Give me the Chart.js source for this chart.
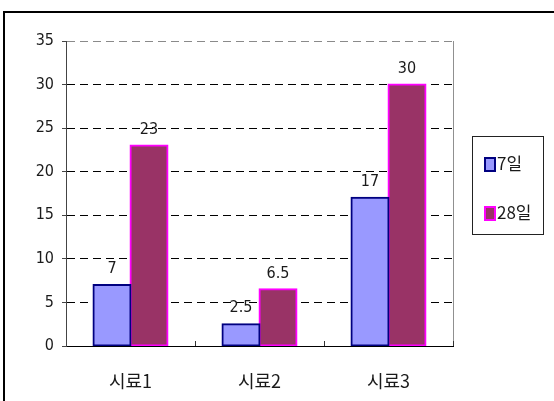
<!DOCTYPE html>
<html lang="ko">
<head>
<meta charset="utf-8">
<title>시료별 강도</title>
<script src="https://cdn.jsdelivr.net/npm/chart.js@4/dist/chart.umd.min.js"></script>
<style>
  html, body { margin: 0; padding: 0; background: #fff; }
  #wrap { width: 554px; height: 401px; }
</style>
</head>
<body>
<div id="wrap"><canvas id="chart" width="554" height="401"></canvas></div>
<script>
/* global Chart */

const categories = ['시료1', '시료2', '시료3'];
const seriesNames = ['7일', '28일'];
const day7 = [7, 2.5, 17];
const day28 = [23, 6.5, 30];
const yTicks = [0, 5, 10, 15, 20, 25, 30, 35];

const numFont = "'DejaVu Sans Condensed', 'Liberation Sans Narrow', 'DejaVu Sans', sans-serif";
const krFont = "'Noto Sans CJK KR', 'DejaVu Sans', sans-serif";

// outer frame, plot border, inward category ticks, value labels, legend
const framePlugin = {
  id: 'frame',
  beforeDraw(chart) {
    const { ctx } = chart;
    ctx.save();
    ctx.fillStyle = '#fff';
    ctx.fillRect(0, 0, chart.width, chart.height);
    ctx.strokeStyle = '#000';
    ctx.lineWidth = 2;
    ctx.beginPath();
    ctx.moveTo(4, chart.height);
    ctx.lineTo(4, 12);
    ctx.lineTo(chart.width, 12);
    ctx.stroke();
    ctx.restore();
  },
  beforeDatasetsDraw(chart) {
    const { ctx, chartArea } = chart;
    const xs = chart.scales.x;
    ctx.save();
    ctx.strokeStyle = '#909090';
    ctx.lineWidth = 1;
    ctx.beginPath();
    ctx.moveTo(chartArea.right + 0.5, chartArea.top);
    ctx.lineTo(chartArea.right + 0.5, chartArea.bottom);
    ctx.stroke();
    ctx.strokeStyle = '#333';
    ctx.beginPath();
    for (let i = 0; i < categories.length; i += 1) {
      let x;
      if (i < categories.length - 1) {
        x = (xs.getPixelForValue(i) + xs.getPixelForValue(i + 1)) / 2;
      } else {
        x = chartArea.right;
      }
      x = Math.round(x) + 0.5;
      ctx.moveTo(x, chartArea.bottom);
      ctx.lineTo(x, chartArea.bottom - 5);
    }
    ctx.stroke();
    ctx.restore();
  },
  afterDatasetsDraw(chart) {
    const { ctx } = chart;
    ctx.save();
    ctx.font = `16px ${numFont}`;
    ctx.fillStyle = '#1a1a1a';
    ctx.textAlign = 'center';
    ctx.textBaseline = 'middle';
    chart.data.datasets.forEach((ds, di) => {
      chart.getDatasetMeta(di).data.forEach((bar, i) => {
        ctx.fillText(String(ds.data[i]), bar.x, bar.y - 16);
      });
    });
    ctx.restore();
  },
  afterDraw(chart) {
    const { ctx } = chart;
    ctx.save();
    ctx.strokeStyle = '#222';
    ctx.lineWidth = 1;
    ctx.strokeRect(472.5, 136.5, 71, 98);
    ctx.font = `17px ${krFont}`;
    ctx.textBaseline = 'middle';
    ctx.textAlign = 'left';
    chart.data.datasets.forEach((ds, di) => {
      const y = 157 + di * 49;
      ctx.fillStyle = ds.backgroundColor;
      ctx.fillRect(484, y, 12, 15);
      ctx.strokeStyle = ds.borderColor;
      ctx.lineWidth = 2;
      ctx.strokeRect(485, y + 1, 10, 13);
      ctx.fillStyle = '#1a1a1a';
      ctx.fillText(ds.label, 497, y + 7);
    });
    ctx.restore();
  },
};

function strengthChart() {
  const config = {
    type: 'bar',
    data: {
      labels: categories,
      datasets: [
        {
          label: seriesNames[0],
          data: day7,
          backgroundColor: '#9999FF',
          borderColor: '#000080',
          borderWidth: 2,
          borderSkipped: false,
          inflateAmount: 1,
        },
        {
          label: seriesNames[1],
          data: day28,
          backgroundColor: '#993366',
          borderColor: '#FF00FF',
          borderWidth: 2,
          borderSkipped: false,
          inflateAmount: 1,
        },
      ],
    },
    options: {
      responsive: false,
      animation: false,
      categoryPercentage: 0.574,
      barPercentage: 1,
      layout: { padding: { left: 0, top: 41, right: 101, bottom: 0 } },
      plugins: {
        legend: { display: false },
        tooltip: { enabled: false },
      },
      scales: {
        x: {
          grid: { display: false },
          border: { display: true, color: '#000', width: 1 },
          ticks: {
            color: '#1a1a1a',
            padding: 16,
            font: { family: krFont, size: 18 },
          },
          afterFit(scale) { scale.height = 55; },
        },
        y: {
          min: 0,
          max: 35,
          afterBuildTicks(scale) { scale.ticks = yTicks.map((v) => ({ value: v })); },
          grid: {
            color: (c) => {
              if (c.tick && c.tick.value === 35) return '#8a8a8a';
              if (c.tick && c.tick.value === 0) return 'rgba(0,0,0,0)';
              return '#000';
            },
            tickColor: '#444',
            tickLength: 4,
            drawTicks: true,
          },
          border: { display: true, color: '#444', width: 1, dash: [8, 5] },
          ticks: {
            color: '#1a1a1a',
            padding: 8,
            font: { family: numFont, size: 16 },
          },
          afterFit(scale) { scale.width = 66; },
        },
      },
    },
  };
  const ctx = document.getElementById('chart');
  return new Chart(ctx, config);
}

Chart.register(framePlugin);
strengthChart();
</script>
</body>
</html>
